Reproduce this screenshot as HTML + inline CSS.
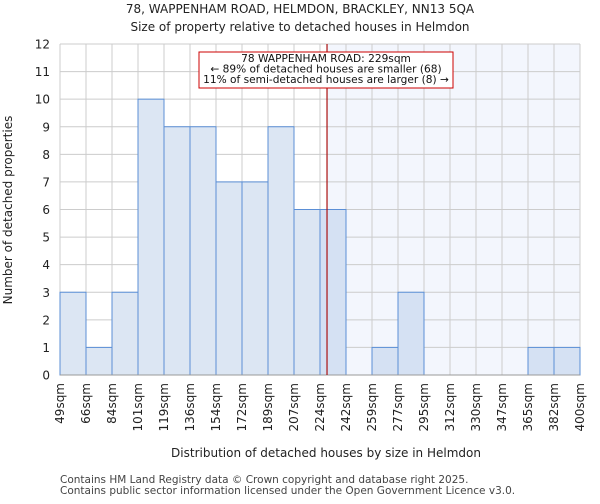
<!DOCTYPE html>
<html><head><meta charset="utf-8"><style>
body{margin:0;background:#fff;font-family:"DejaVu Sans","Liberation Sans",sans-serif;}
</style></head><body>
<svg id="c" width="600" height="500" xmlns="http://www.w3.org/2000/svg" style="font-family:'DejaVu Sans','Liberation Sans',sans-serif">
<text x="300" y="13" text-anchor="middle" font-size="12" fill="#222">78, WAPPENHAM ROAD, HELMDON, BRACKLEY, NN13 5QA</text>
<text x="300" y="31" text-anchor="middle" font-size="12" fill="#222">Size of property relative to detached houses in Helmdon</text>
<g id="g"></g>
<text x="326" y="457" text-anchor="middle" font-size="12" fill="#222">Distribution of detached houses by size in Helmdon</text>
<text transform="translate(12,210) rotate(-90)" text-anchor="middle" font-size="12" fill="#222">Number of detached properties</text>
<text x="60" y="483" font-size="10.5" fill="#444">Contains HM Land Registry data © Crown copyright and database right 2025.</text>
<text x="60" y="494" font-size="10.5" fill="#444">Contains public sector information licensed under the Open Government Licence v3.0.</text>
</svg>
<script>
const categories=["49sqm","66sqm","84sqm","101sqm","119sqm","136sqm","154sqm","172sqm","189sqm","207sqm","224sqm","242sqm","259sqm","277sqm","295sqm","312sqm","330sqm","347sqm","365sqm","382sqm","400sqm"];
const counts=[3,1,3,10,9,9,7,7,9,6,6,0,1,3,0,0,0,0,1,1];
const yTicks=[0,1,2,3,4,5,6,7,8,9,10,11,12];
const propertyBin=10.27;
const annotation=["78 WAPPENHAM ROAD: 229sqm","← 89% of detached houses are smaller (68)","11% of semi-detached houses are larger (8) →"];
const NS="http://www.w3.org/2000/svg";
const g=document.getElementById('g');
const L=60,R=580,T=44,B=375,yMax=12;
const bw=(R-L)/counts.length;
const x=i=>L+i*bw;
const y=v=>B-v*(B-T)/yMax;
function mk(t,a){const e=document.createElementNS(NS,t);for(const k in a)e.setAttribute(k,a[k]);g.appendChild(e);return e;}
const px=x(propertyBin);
let e=mk('rect',{x:px,y:T,width:R-px,height:B-T,fill:'#f3f6fd'});


yTicks.forEach(t=>{
 let l=mk('line',{x1:L,x2:R,y1:y(t),y2:y(t),stroke:'#cccccc','stroke-width':1});
 
 
 let tx=mk('text',{x:L-10,y:y(t)+4.5,'text-anchor':'end','font-size':12,fill:'#222'});
 tx.textContent=t;
 
 
});
categories.forEach((c,i)=>{
 let l=mk('line',{x1:x(i),x2:x(i),y1:T,y2:B,stroke:'#cccccc','stroke-width':1});
 
 
 let tx=mk('text',{transform:`translate(${x(i)+4},${B+8}) rotate(-90)`,'text-anchor':'end','font-size':12,fill:'#222'});
 tx.textContent=c;
 
 
});
counts.forEach((v,i)=>{
 if(v<=0)return;
 let r=mk('rect',{x:x(i),y:y(v),width:bw,height:B-y(v),fill:i>=propertyBin-0.5?'#d5e1f3':'#dce6f3',stroke:'#5b8fd6','stroke-width':1});
 
 
});
let ax=mk('line',{x1:L,x2:R,y1:B,y2:B,stroke:'#999','stroke-width':1});


let ml=mk('line',{x1:px,x2:px,y1:T,y2:B,stroke:'#aa1111','stroke-width':1.2});


let box=mk('rect',{x:199,y:52,width:254,height:36,fill:'#fff',stroke:'#cc0000','stroke-width':1});


annotation.forEach((s,i)=>{
 let t=mk('text',{x:326,y:62+i*10.5,'text-anchor':'middle','font-size':10.6,fill:'#111'});
 t.textContent=s;
 
 
});
</script>
</body></html>
